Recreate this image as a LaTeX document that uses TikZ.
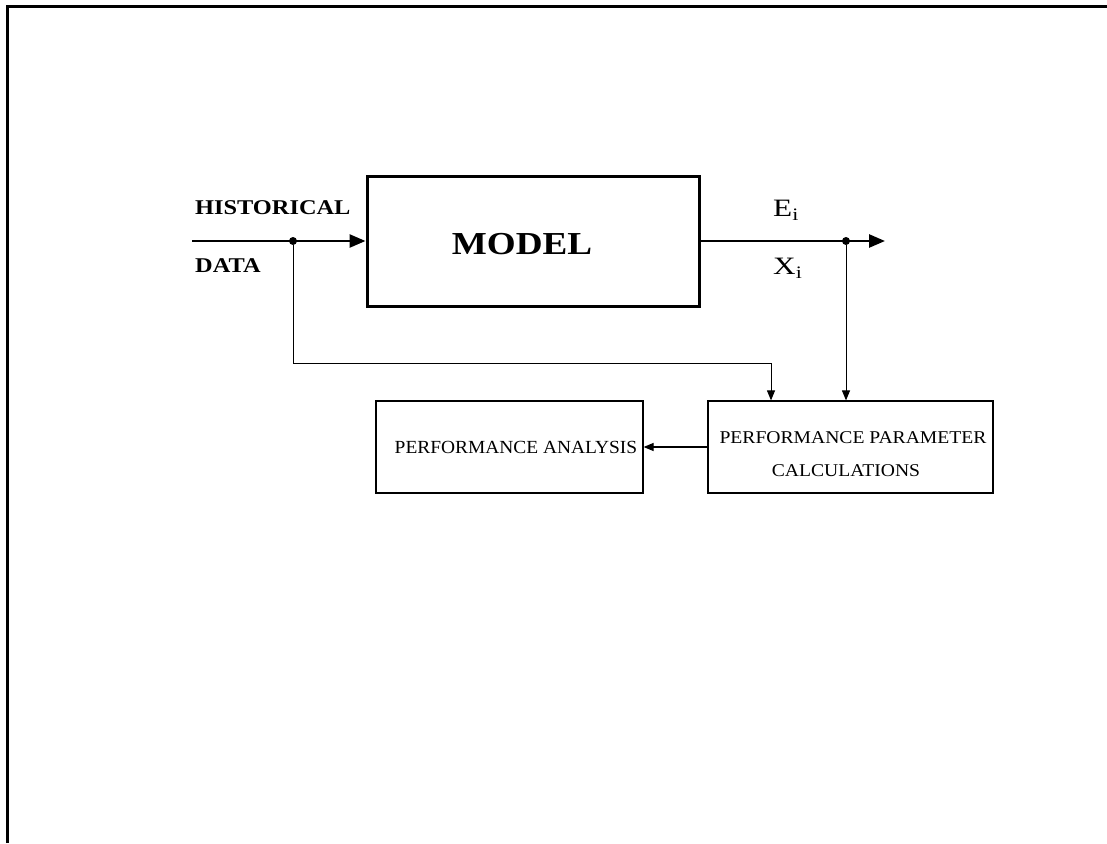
\documentclass[tikz,border=0pt]{standalone}
\usepackage{fontspec}
\setmainfont{Liberation Serif}
\usetikzlibrary{arrows.meta}
\newcommand{\wide}[2]{\scalebox{#1}[1]{#2}}
\tikzset{
  bigbox/.style={draw, line width=3pt, minimum width=332pt, minimum height=130pt, inner sep=0pt},
  smallbox/.style={draw, line width=1.2pt, inner sep=0pt},
  mainline/.style={line width=2.6pt},
  thinline/.style={line width=1pt},
  bigarrow/.style={-{Triangle[length=16pt,width=13pt]}},
  smallarrow/.style={-{Triangle[length=10pt,width=8pt]}},
  junction/.style={circle, fill=black, inner sep=0pt, minimum size=8pt},
  lbl/.style={inner sep=0pt, anchor=west}
}
\begin{document}
\begin{tikzpicture}[x=1pt,y=-1pt]
\useasboundingbox (0,0) rectangle (1107,843);
% outer frame (top and left edges)
\draw[line width=3pt] (7,843) -- (7,7) -- (1107,7);
% model box
\node[bigbox] (model) at (533,241) {};
\node[inner sep=0pt] (modeltxt) at (522,244) {\wide{1.16}{\fontsize{32}{36}\selectfont\bfseries MODEL}};
% input
\coordinate (in) at (192,241);
\node[junction] (j1) at (293,241) {};
\draw[mainline,bigarrow] (in) -- (model.west);
\node[lbl] (hist) at (195,208) {\wide{1.16}{\fontsize{21}{24}\selectfont\bfseries HISTORICAL}};
\node[lbl] (data) at (195,266) {\wide{1.16}{\fontsize{21}{24}\selectfont\bfseries DATA}};
% output
\coordinate (out) at (885,241);
\node[junction] (j2) at (846,241) {};
\draw[mainline,bigarrow] (model.east) -- (out);
\node[lbl] (ei) at (773,210) {\wide{1.25}{\fontsize{25}{28}\selectfont E\textsubscript{i}}};
\node[lbl] (xi) at (773,268) {\wide{1.25}{\fontsize{25}{28}\selectfont X\textsubscript{i}}};
% lower boxes
\node[smallbox, minimum width=285pt, minimum height=92pt] (ppc) at (850.5,447) {};
\node[inner sep=0pt] (ppct1) at (853,438) {\wide{1.09}{\fontsize{18}{20}\selectfont PERFORMANCE PARAMETER}};
\node[inner sep=0pt] (ppct2) at (846,471) {\wide{1.09}{\fontsize{18}{20}\selectfont CALCULATIONS}};
\node[smallbox, minimum width=267pt, minimum height=92pt] (pa) at (509.5,447) {};
\node[inner sep=0pt] (patxt) at (516,447) {\wide{1.05}{\fontsize{18.5}{20}\selectfont PERFORMANCE ANALYSIS}};
% connectors
\coordinate (fbcorner) at (293,363);
\coordinate (fbend) at (771,363);
\draw[thinline,smallarrow] (j1) -- (fbcorner) -- (fbend) -- (fbend |- ppc.north);
\draw[thinline,smallarrow] (j2) -- (j2 |- ppc.north);
\draw[line width=1.2pt,smallarrow] (ppc.west) -- (pa.east);
\end{tikzpicture}
\end{document}
